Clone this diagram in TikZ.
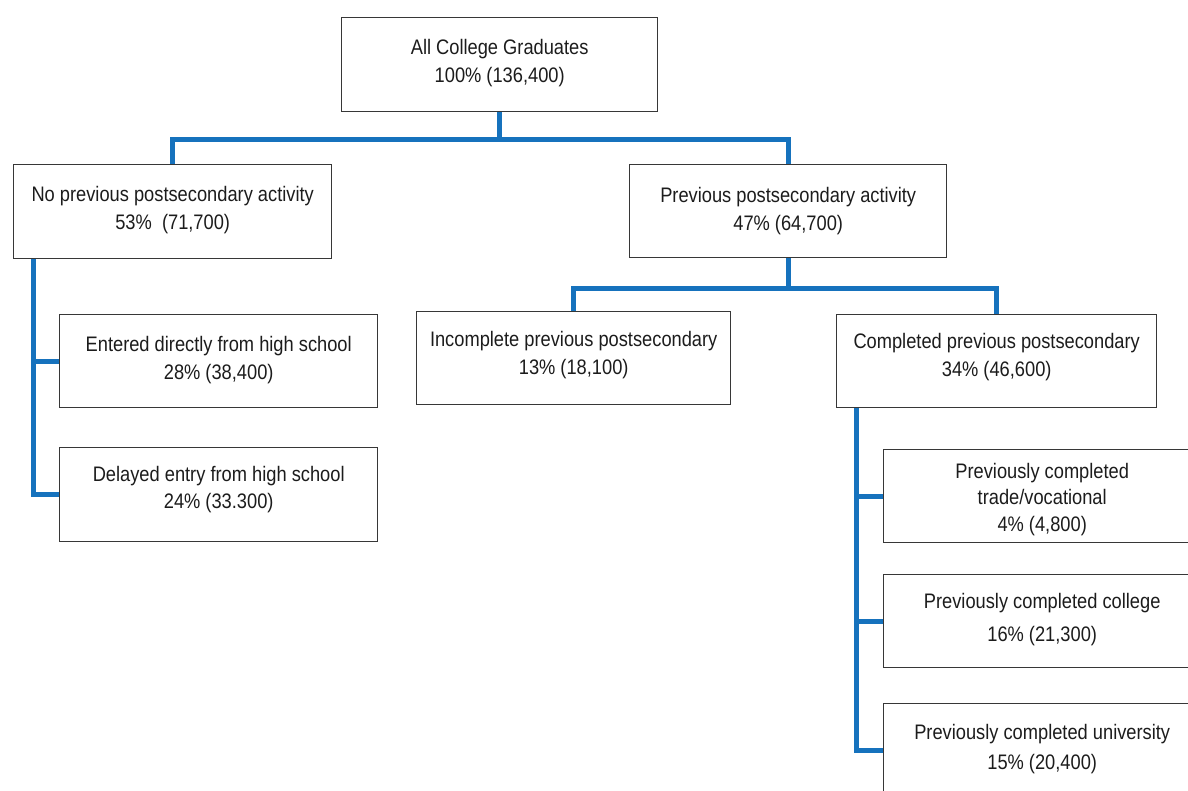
\documentclass[tikz,border=0pt]{standalone}
\usepackage{fontspec}
\setmainfont{Liberation Sans}[FakeStretch=0.87]
\definecolor{linkblue}{RGB}{22,114,189}
\definecolor{boxgray}{RGB}{55,55,55}
\definecolor{textgray}{RGB}{28,28,28}
\begin{document}
\begin{tikzpicture}[x=1pt,y=-1pt,
	link/.style={draw=linkblue,line width=5pt},
	txt/.style={anchor=north,align=center,inner sep=0pt,text=textgray,font=\fontsize{21}{28}\selectfont}]
	\useasboundingbox (0,0) rectangle (1188,790);
	\clip (0,0) rectangle (1188,790);
	          \begin{scope}[every node/.style={draw=boxgray,line width=1.4pt,anchor=north west,minimum width=318pt,minimum height=93pt,inner sep=0pt}]
	            \node (root) at (341,17) [minimum width=316pt,minimum height=94pt] {};
	            \node (noprev) at (13,164) [minimum height=94pt] {};
	            \node (prev) at (629,164) [minimum width=317pt] {};
	            \node (incomp) at (416,311) [minimum width=314pt] {};
	            \node (compl) at (836,314) [minimum width=320pt] {};
	            \node (direct) at (59,314) {};
	            \node (delayed) at (59,447) [minimum height=94pt] {};
	            \node (trade) at (883,449) [minimum width=317pt] {};
	            \node (college) at (883,574) [minimum width=317pt] {};
	            \node (univ) at (883,703) [minimum width=317pt] {};
	          \end{scope}
	          \begin{scope}[every node/.style={txt}]
	            \node (rootT) at ([yshift=-22pt]root.north) {All College Graduates\\100\% (136,400)};
	            \node (noprevT) at ([yshift=-22pt]noprev.north) {No previous postsecondary activity\\53\%\ \ (71,700)};
	            \node (prevT) at ([yshift=-23pt]prev.north) {Previous postsecondary activity\\47\% (64,700)};
	            \node (incompT) at ([yshift=-20pt]incomp.north) {Incomplete previous postsecondary\\13\% (18,100)};
	            \node (complT) at ([yshift=-19pt]compl.north) {Completed previous postsecondary\\34\% (46,600)};
	            \node (directT) at ([yshift=-22pt]direct.north) {Entered directly from high school\\28\% (38,400)};
	            \node (delayedT) at ([yshift=-19pt]delayed.north) {Delayed entry from high school\\[-1pt]24\% (33.300)};
	            \node (tradeT) at ([yshift=-14pt]trade.north) {Previously completed\\[-2pt]trade/vocational\\[-1pt]4\% (4,800)};
	            \node (collegeT) at ([yshift=-19pt]college.north) {Previously completed college\\[5pt]16\% (21,300)};
	            \node (univT) at ([yshift=-21pt]univ.north) {Previously completed university\\[2pt]15\% (20,400)};
	          \end{scope}
	          \begin{scope}[every path/.style={link}]
	            \path (root.south) -- ++(0,27) -| (noprev.north);
	            \path (root.south) -- ++(0,27) -| (prev.north);
	            \path (prev.south) -- ++(0,30) -| (incomp.north);
	            \path (prev.south) -- ++(0,30) -| (compl.north);
	            \path ([xshift=20pt]noprev.south west) |- (direct.west);
	            \path ([xshift=20pt]noprev.south west) |- (delayed.west);
	            \path ([xshift=20pt]compl.south west) |- (trade.west);
	            \path ([xshift=20pt]compl.south west) |- (college.west);
	            \path ([xshift=20pt]compl.south west) |- (univ.west);
	          \end{scope}
\end{tikzpicture}
\end{document}
